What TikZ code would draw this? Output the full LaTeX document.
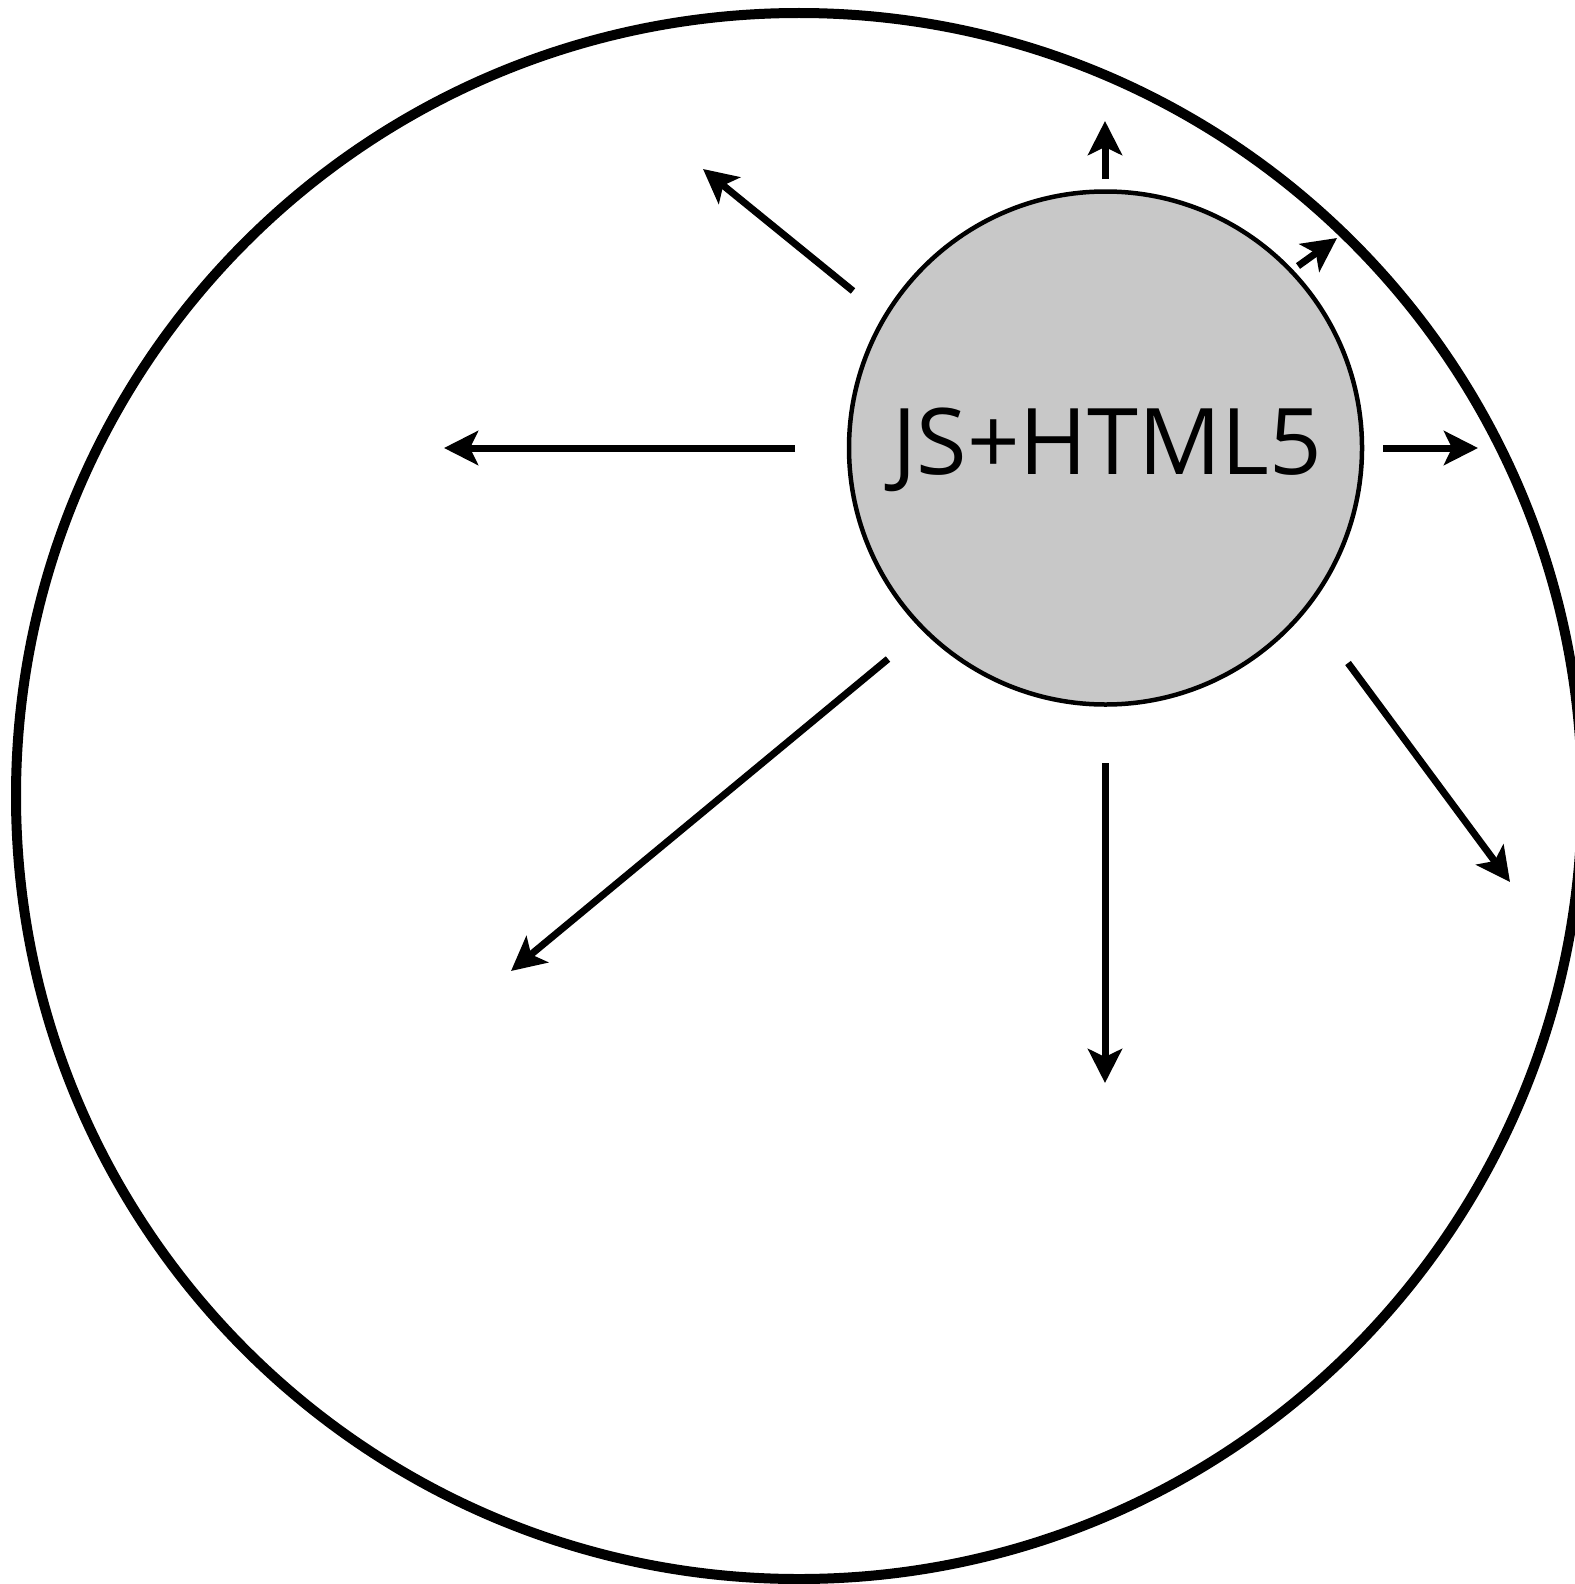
\documentclass[tikz,border=0pt]{standalone}
\usepackage{fontspec}
\setmainfont{Open Sans}
\usetikzlibrary{arrows.meta}
\definecolor{hubgray}{HTML}{C8C8C8}
\tikzset{
  ray/.style={line width=7pt, -{Stealth[length=34pt,width=34pt,inset=8pt]}},
  outer/.style={draw, line width=10pt, circle, minimum size=1566pt, inner sep=0pt},
  hub/.style={draw, line width=4.5pt, circle, fill=hubgray, minimum size=513pt, inner sep=0pt},
  hubtext/.style={inner sep=0pt, font=\fontsize{92}{92}\selectfont}
}
\begin{document}
\begin{tikzpicture}[x=1pt,y=-1pt]
\useasboundingbox (0,0) rectangle (1574,1584);
\fill[white] (0,0) rectangle (1574,1584);
\node[outer] (world) at (799,796) {};
\node[hub] (js) at (1105.5,448) {};
\node[hubtext] (lbl) at (1107,450) {JS+HTML5};
% ray ends
\coordinate (upA) at (1105,179);   \coordinate (upB) at (1105,121);
\coordinate (urA) at (1298,266);   \coordinate (urB) at (1337,238);
\coordinate (rtA) at (1383,448);   \coordinate (rtB) at (1478,448);
\coordinate (drA) at (1348,663);   \coordinate (drB) at (1510,882);
\coordinate (dnA) at (1105,763);   \coordinate (dnB) at (1105,1083);
\coordinate (dlA) at (888,659);    \coordinate (dlB) at (511,971);
\coordinate (ltA) at (795,448);    \coordinate (ltB) at (444,448);
\coordinate (ulA) at (853,291);    \coordinate (ulB) at (703,169);
\draw[ray] (upA) -- (upB);
\draw[ray] (urA) -- (urB);
\draw[ray] (rtA) -- (rtB);
\draw[ray] (drA) -- (drB);
\draw[ray] (dnA) -- (dnB);
\draw[ray] (dlA) -- (dlB);
\draw[ray] (ltA) -- (ltB);
\draw[ray] (ulA) -- (ulB);
\end{tikzpicture}
\end{document}
